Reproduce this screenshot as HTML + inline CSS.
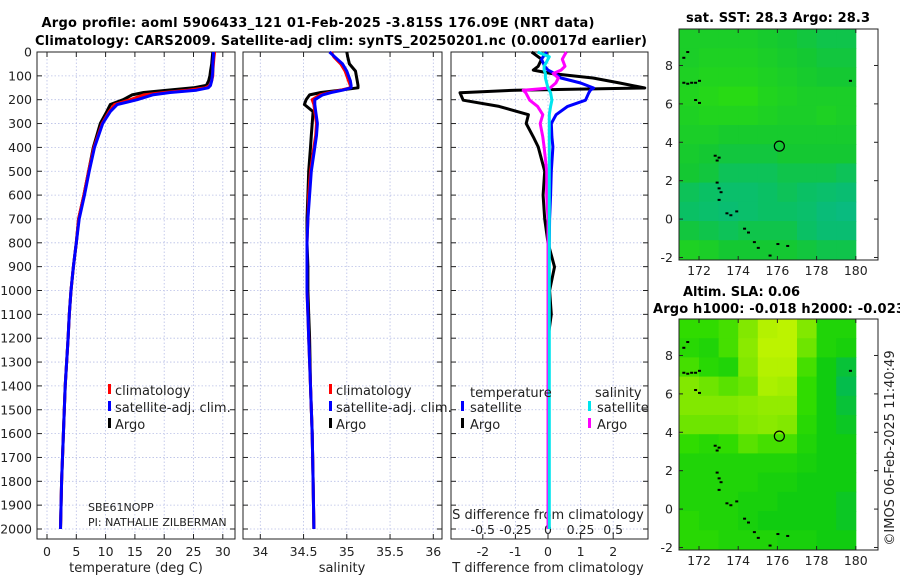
<!DOCTYPE html>
<html><head><meta charset="utf-8">
<style>
html,body{margin:0;padding:0;background:#fff;}
svg{display:block;font-family:"DejaVu Sans","Liberation Sans",sans-serif;}
</style></head>
<body>
<svg id="fig" width="900" height="580" viewBox="0 0 900 580" xmlns="http://www.w3.org/2000/svg">
<text x="318" y="27" font-size="13" font-weight="bold" text-anchor="middle" textLength="553">Argo profile: aoml 5906433_121 01-Feb-2025 -3.815S 176.09E (NRT data)</text>
<text x="341" y="45" font-size="13" font-weight="bold" text-anchor="middle" textLength="612">Climatology: CARS2009. Satellite-adj clim: synTS_20250201.nc (0.00017d earlier)</text>
<text x="778" y="22" font-size="13" font-weight="bold" text-anchor="middle" textLength="184">sat. SST: 28.3 Argo: 28.3</text>
<text x="683" y="296" font-size="13" font-weight="bold" textLength="117">Altim. SLA: 0.06</text>
<text x="653" y="313" font-size="13" font-weight="bold" textLength="252">Argo h1000: -0.018 h2000: -0.023</text>
<text transform="translate(894,448) rotate(-90)" font-size="13" text-anchor="middle" fill="#222">©IMOS 06-Feb-2025 11:40:49</text>
<g id="layer"></g>
</svg>
<script>
// ---------- data ----------
const depths = [0,20,50,80,100,120,140,150,160,170,180,200,220,250,300,350,400,500,600,700,800,900,1000,1100,1200,1400,1600,1800,2000];
const argoT  = [28.3,28.2,28.1,27.9,27.8,27.6,27.2,25.0,20.5,16.5,14.5,13.0,10.8,10.2,9.1,8.5,7.9,7.1,6.3,5.4,5.0,4.5,4.1,3.8,3.6,3.1,2.8,2.5,2.3];
const climT  = [28.6,28.5,28.4,28.3,28.3,28.1,27.8,27.0,24.0,20.0,16.5,14.2,11.5,10.6,9.4,8.7,8.0,7.1,6.3,5.4,5.0,4.5,4.1,3.8,3.6,3.1,2.8,2.5,2.3];
const satT   = [28.4,28.4,28.3,28.3,28.2,28.1,27.9,27.5,25.5,21.0,18.0,15.4,12.0,10.8,9.5,8.8,8.1,7.2,6.4,5.5,5.0,4.5,4.1,3.8,3.6,3.1,2.8,2.5,2.3];
const argoS  = [35.00,35.01,35.03,35.10,35.11,35.12,35.13,35.13,34.92,34.70,34.57,34.53,34.51,34.61,34.60,34.59,34.58,34.56,34.55,34.54,34.54,34.55,34.55,34.56,34.57,34.58,34.60,34.61,34.62];
const climS  = [34.82,34.85,34.93,34.98,35.00,35.02,35.04,35.04,34.93,34.80,34.69,34.60,34.62,34.63,34.65,34.64,34.62,34.58,34.56,34.55,34.54,34.54,34.54,34.55,34.56,34.58,34.60,34.61,34.62];
const satS   = [34.80,34.86,34.95,35.00,35.02,35.04,35.05,35.05,34.95,34.82,34.72,34.63,34.63,34.64,34.66,34.65,34.63,34.59,34.57,34.55,34.54,34.54,34.54,34.55,34.56,34.58,34.60,34.61,34.62];
const dDepths = [0,20,30,60,76,90,109,130,151,160,171,202,228,263,300,356,398,500,600,700,800,901,1000,1100,1200,1400,1600,1800,2000];
const argoTdiff = [-0.5,-0.3,-0.2,-0.3,-0.45,0.1,1.38,2.2,2.97,-1.0,-2.7,-2.6,-1.5,-0.6,-0.67,-0.45,-0.3,-0.1,-0.15,-0.1,0.0,0.2,0.05,0.1,0.0,0.02,0.0,0.0,0.0];
const satTdiff  = [-0.04,-0.15,-0.2,-0.1,0.0,0.2,0.4,1.0,1.4,1.3,1.25,1.15,0.6,0.25,0.1,0.12,0.15,0.1,0.08,0.05,0.04,0.03,0.03,0.02,0.02,0.01,0.0,0.0,0.0];
const argoSdiff = [0.14,0.12,0.11,0.13,0.10,0.04,0.08,0.06,0.015,-0.19,-0.17,-0.14,-0.08,-0.04,-0.06,-0.04,-0.03,-0.01,-0.01,0.0,0.0,0.0,0.0,0.0,0.0,0.0,0.0,0.0,0.0];
const satSdiff  = [-0.08,0.01,0.0,-0.03,-0.03,-0.02,-0.02,-0.01,0.0,0.01,0.02,0.03,0.02,0.01,0.01,0.01,0.01,0.01,0.01,0.01,0.01,0.01,0.01,0.01,0.01,0.01,0.01,0.01,0.01];
const depthTicks = [0,100,200,300,400,500,600,700,800,900,1000,1100,1200,1300,1400,1500,1600,1700,1800,1900,2000];
const tempTicks = [0,5,10,15,20,25,30];
const salTicks = [34,34.5,35,35.5,36];
const salTickLabels = ["34","34.5","35","35.5","36"];
const tdTicks = [-2,-1,0,1,2];
const sdTickLabels = ["-0.5","-0.25","0","0.25","0.5"];
const mapLons = [171,172,173,174,175,176,177,178,179];
const mapLats = [9.9,8.9,7.9,6.9,5.9,4.9,3.9,2.9,1.9,0.9,-0.1,-1.1];
const sstGrid = [
[.6,.6,.6,.6,.55,.5,.45,.4,.4],
[.6,.65,.65,.65,.6,.55,.5,.45,.45],
[.65,.7,.7,.7,.65,.6,.55,.5,.5],
[.7,.75,.8,.8,.7,.65,.6,.6,.6],
[.65,.7,.7,.7,.65,.6,.6,.65,.6],
[.6,.6,.55,.55,.55,.55,.55,.55,.55],
[.55,.5,.45,.45,.45,.5,.5,.5,.5],
[.5,.45,.35,.35,.35,.4,.4,.4,.35],
[.35,.3,.25,.25,.3,.35,.3,.25,.2],
[.3,.25,.2,.25,.3,.3,.25,.15,.1],
[.45,.4,.35,.4,.4,.4,.3,.2,.2],
[.65,.6,.5,.5,.5,.5,.45,.4,.4]];
const slaGrid = [
[.4,.4,.45,.6,.9,.95,.6,.3,.3],
[.35,.3,.45,.65,.95,.95,.55,.3,.25],
[.45,.35,.3,.6,.9,.9,.45,.2,.1],
[.6,.55,.5,.55,.85,.8,.4,.2,.05],
[.6,.6,.6,.65,.7,.7,.4,.2,.1],
[.55,.55,.55,.6,.65,.6,.35,.2,.15],
[.4,.35,.4,.5,.45,.45,.3,.2,.2],
[.3,.3,.3,.3,.3,.3,.25,.2,.2],
[.3,.3,.3,.3,.25,.25,.2,.2,.2],
[.3,.3,.3,.25,.25,.2,.2,.2,.15],
[.35,.3,.3,.25,.2,.2,.2,.2,.15],
[.35,.35,.3,.3,.3,.25,.25,.2,.2]];
const mapLonTicks = [172,174,176,178,180];
const mapLatTicks = [-2,0,2,4,6,8];
const coastLon = [171.4,171.2,171.2,171.4,171.6,171.8,172.0,171.8,172.0,172.8,172.9,173.0,172.9,173.0,173.1,173.0,173.4,173.6,173.9,174.3,174.5,174.8,175.0,175.6,176.0,176.5,179.7];
const coastLat = [8.7,8.4,7.1,7.05,7.1,7.1,7.2,6.2,6.05,3.3,3.05,3.2,1.9,1.6,1.4,1.0,0.3,0.2,0.4,-0.5,-0.7,-1.2,-1.5,-1.9,-1.3,-1.4,7.2];
const argoLon = 176.1, argoLat = 3.8;

// ---------- helpers ----------
const NS = "http://www.w3.org/2000/svg";
const layer = document.getElementById('layer');
function mk(tag, attrs, parent){ const e=document.createElementNS(NS,tag); for(const k in attrs) e.setAttribute(k,attrs[k]); (parent||layer).appendChild(e); return e; }
const yTop=52, yBot=539;
const yD = d => yTop + d*0.2385;
const panels = [
  {x0:37,x1:235, fx: v => 47 + v*5.86},
  {x0:243,x1:442, fx: v => 260.3 + (v-34)*86.5},
  {x0:451,x1:648, fx: v => 548 + v*32.6}
];
const fxS = v => 548 + v*130.4;

function drawGrid(p, xt, name){
  const g = mk('g',{});
  
  
  depthTicks.forEach(d=>{
    const l=mk('line',{x1:p.x0,x2:p.x1,y1:yD(d),y2:yD(d),stroke:'#b8bfe6','stroke-width':0.8,'stroke-dasharray':'1.5,2'},g);
    
    
    mk('line',{x1:p.x0,x2:p.x0+5,y1:yD(d),y2:yD(d),stroke:'#222'},g);
    mk('line',{x1:p.x1-5,x2:p.x1,y1:yD(d),y2:yD(d),stroke:'#222'},g);
  });
  xt.forEach(v=>{
    const x=p.fx(v);
    const l=mk('line',{x1:x,x2:x,y1:yTop,y2:yBot,stroke:'#b8bfe6','stroke-width':0.8,'stroke-dasharray':'1.5,2'},g);
    
    
    mk('line',{x1:x,x2:x,y1:yBot-5,y2:yBot,stroke:'#222'},g);
    mk('line',{x1:x,x2:x,y1:yTop,y2:yTop+5,stroke:'#222'},g);
  });
  const r=mk('rect',{x:p.x0,y:yTop,width:p.x1-p.x0,height:yBot-yTop,fill:'none',stroke:'#222','stroke-width':1},g);
  
  
}
function line(xs, ds, fx, color, name){
  const pts = xs.map((v,i)=>fx(v).toFixed(1)+','+yD(ds[i]).toFixed(1)).join(' ');
  const e=mk('polyline',{points:pts,fill:'none',stroke:color,'stroke-width':3,'stroke-linejoin':'round'});
  
  
}
function txt(x,y,s,opts,name){
  const e=mk('text',Object.assign({x:x,y:y,'font-size':13,fill:'#222'},opts||{}));
  e.textContent=s;
  
  
  return e;
}

// ---------- panel 1: temperature ----------
drawGrid(panels[0], tempTicks, 'temperature-panel');
depthTicks.forEach(d=>{ txt(32,yD(d)+4.5,String(d),{'text-anchor':'end','font-size':12.5},'depth-tick-label'); });
tempTicks.forEach(v=>{ txt(panels[0].fx(v),556,String(v),{'text-anchor':'middle','font-size':12.5},'temperature-tick-label'); });
txt(136,572,'temperature (deg C)',{'text-anchor':'middle'},'temperature-axis-title');
line(argoT, depths, panels[0].fx, '#000', 'argo-temperature-line');
line(climT, depths, panels[0].fx, '#ff0000', 'climatology-temperature-line');
line(satT, depths, panels[0].fx, '#0000ff', 'satellite-temperature-line');
txt(88,511,'SBE61NOPP',{'font-size':11},'instrument-label');
txt(88,526,'PI: NATHALIE ZILBERMAN',{'font-size':11},'pi-label');

// ---------- panel 2: salinity ----------
drawGrid(panels[1], salTicks, 'salinity-panel');
salTicks.forEach((v,i)=>{ txt(panels[1].fx(v),556,salTickLabels[i],{'text-anchor':'middle','font-size':12.5},'salinity-tick-label'); });
txt(342,572,'salinity',{'text-anchor':'middle'},'salinity-axis-title');
line(argoS, depths, panels[1].fx, '#000', 'argo-salinity-line');
line(climS, depths, panels[1].fx, '#ff0000', 'climatology-salinity-line');
line(satS, depths, panels[1].fx, '#0000ff', 'satellite-salinity-line');

// ---------- panel 3: differences ----------
drawGrid(panels[2], tdTicks, 'difference-panel');
tdTicks.forEach(v=>{ txt(panels[2].fx(v),556,String(v),{'text-anchor':'middle','font-size':12.5},'t-diff-tick-label'); });
sdTickLabels.forEach((s,i)=>{ txt(panels[2].fx(tdTicks[i]),534,s,{'text-anchor':'middle','font-size':12.5},'s-diff-tick-label'); });
txt(548,519,'S difference from climatology',{'text-anchor':'middle'},'s-diff-axis-title');
txt(548,572,'T difference from climatology',{'text-anchor':'middle'},'t-diff-axis-title');
line(argoTdiff, dDepths, panels[2].fx, '#000', 'argo-t-diff-line');
line(satTdiff, dDepths, panels[2].fx, '#0000ff', 'satellite-t-diff-line');
line(argoSdiff, dDepths, fxS, '#ff00ff', 'argo-s-diff-line');
line(satSdiff, dDepths, fxS, '#00e5ee', 'satellite-s-diff-line');

// ---------- legends ----------
function legend(x, items, name){
  items.forEach((it,i)=>{
    const y = 391 + i*17;
    const b=mk('rect',{x:x,y:y-7,width:3,height:10,fill:it[0]});
    
    
    txt(x+7,y+4,it[1],{},name+'-label');
  });
}
legend(108,[['#ff0000','climatology'],['#0000ff','satellite-adj. clim.'],['#000','Argo']],'temperature-legend');
legend(329,[['#ff0000','climatology'],['#0000ff','satellite-adj. clim.'],['#000','Argo']],'salinity-legend');
txt(470,397,'temperature',{},'diff-legend-temperature-heading');
txt(595,397,'salinity',{},'diff-legend-salinity-heading');
[['#0000ff','satellite',461,408],['#000','Argo',461,425],['#00e5ee','satellite',588,408],['#ff00ff','Argo',588,425]].forEach(it=>{
  const b=mk('rect',{x:it[2],y:it[3]-7,width:3,height:10,fill:it[0]});
  
  
  txt(it[2]+9,it[3]+4,it[1],{},'diff-legend-label');
});

// ---------- maps ----------
function lerp(a,b,t){return a+(b-a)*t;}
function cmap(stops, v){
  for(let i=0;i<stops.length-1;i++){
    if(v<=stops[i+1][0]){
      const t=(v-stops[i][0])/(stops[i+1][0]-stops[i][0]);
      const c=[0,1,2].map(k=>Math.round(lerp(stops[i][1][k],stops[i+1][1][k],t)));
      return 'rgb('+c.join(',')+')';
    }
  }
  const c=stops[stops.length-1][1]; return 'rgb('+c.join(',')+')';
}
const sstStops=[[0,[8,184,140]],[0.3,[10,192,100]],[0.5,[20,200,50]],[0.8,[40,218,20]],[1,[60,226,10]]];
const slaStops=[[0,[0,184,96]],[0.2,[16,204,16]],[0.4,[48,220,0]],[0.6,[130,232,0]],[1,[196,244,0]]];
function drawMap(y0, grid, stops, name){
  const mx0=679, mx1=878, my0=y0, my1=y0+231;
  const fx = lon => 679.4 + (lon-171)*19.6;
  const fy = lat => my0 + (9.9-lat)*19.2;
  const g=mk('g',{});
  
  
  grid.forEach((row,r)=>row.forEach((v,c)=>{
    const x=fx(mapLons[c]), y=fy(mapLats[r]);
    const cell=mk('rect',{x:x.toFixed(1),y:y.toFixed(1),width:20.1,height:19.7,fill:cmap(stops,v)},g);
    
    
  }));
  coastLon.forEach((lon,i)=>{
    const d=mk('rect',{x:fx(lon)-1,y:fy(coastLat[i])-1,width:3,height:2,fill:'#000'},g);
    
    
  });
  const c=mk('circle',{cx:fx(argoLon),cy:fy(argoLat),r:5,fill:'none',stroke:'#000','stroke-width':1.2},g);
  
  
  const fr=mk('rect',{x:mx0,y:my0,width:mx1-mx0,height:my1-my0,fill:'none',stroke:'#222'},g);
  
  
  mapLonTicks.forEach(lon=>{
    const x=fx(lon);
    mk('line',{x1:x,x2:x,y1:my1-4,y2:my1,stroke:'#222'},g);
    mk('line',{x1:x,x2:x,y1:my0,y2:my0+4,stroke:'#222'},g);
    txt(x,my1+15,String(lon),{'text-anchor':'middle','font-size':12.5},'map-lon-tick-label');
  });
  mapLatTicks.forEach(lat=>{
    const y=fy(lat);
    mk('line',{x1:mx0,x2:mx0+4,y1:y,y2:y,stroke:'#222'},g);
    mk('line',{x1:mx1-4,x2:mx1,y1:y,y2:y,stroke:'#222'},g);
    txt(673,y+4.5,String(lat),{'text-anchor':'end','font-size':12.5},'map-lat-tick-label');
  });
}
drawMap(29, sstGrid, sstStops, 'sst-map');
drawMap(319, slaGrid, slaStops, 'sla-map');
</script>
</body></html>
